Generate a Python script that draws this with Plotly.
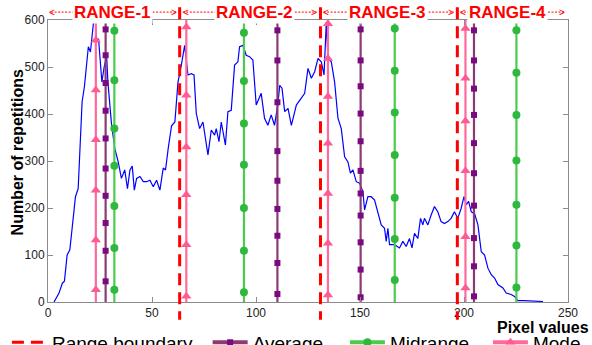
import plotly.graph_objects as go

# ---------------- data ----------------
pixel_x = [2.9, 5.3, 6.9, 7.9, 9.2, 10.5, 11.6, 13.2, 14.5, 15.3, 16.4, 17.5, 18.5, 19.4, 20.4,
           21.3, 21.9, 22.7, 23.5, 24.3, 25.1, 25.9, 27.0, 28.2, 28.8, 30.5, 32.1, 33.7, 35.3,
           36.9, 38.2, 39.4, 40.5, 41.5, 42.6, 44.2, 45.8, 47.4, 49.0, 50.6, 52.2, 53.8, 55.4,
           56.5, 57.8, 59.4, 61.0, 62.5, 64.1, 65.7, 67.3, 68.9, 70.2, 71.3, 72.9, 74.5, 76.9,
           78.5, 80.1, 80.9, 82.2, 83.3, 85.3, 86.5, 88.1, 89.7, 91.3, 92.1, 93.7, 95.3, 96.9,
           98.5, 100.1, 102.5, 104.1, 105.7, 107.3, 108.9, 110.5, 111.4, 112.5, 113.8, 115.4,
           117.0, 119.4, 121.8, 123.4, 125.0, 126.6, 128.2, 129.8, 131.4, 132.7, 133.8, 134.6,
           136.2, 137.8, 139.4, 141.0, 142.6, 144.2, 145.4, 146.6, 148.2, 149.8, 151.4, 152.2,
           153.8, 155.4, 157.0, 158.6, 160.2, 161.8, 162.6, 163.4, 164.2, 166.6, 169.0, 170.6,
           172.2, 173.8, 175.0, 176.2, 177.8, 179.1, 180.2, 181.0, 182.6, 184.2, 185.8, 187.4,
           189.0, 190.6, 192.2, 193.8, 195.4, 197.0, 198.6, 200.0, 201.1, 202.2, 203.5, 205.1,
           206.7, 208.3, 209.9, 211.5, 213.1, 214.7, 216.3, 218.7, 220.3, 222.7, 224.3, 225.9,
           229.1, 238.0]
repetitions = [0, 19, 40, 44, 100, 111, 157, 224, 241, 313, 426, 458, 504, 543, 532,
               564, 596, 600, 553, 560, 504, 468, 500, 523, 468, 380, 327, 299, 263,
               281, 241, 281, 289, 238, 263, 267, 256, 256, 259, 245, 259, 238, 285,
               281, 327, 375, 383, 468, 504, 546, 483, 486, 483, 401, 369, 383, 313,
               366, 355, 369, 341, 383, 334, 405, 408, 504, 511, 543, 546, 525, 522,
               515, 419, 444, 391, 376, 398, 376, 420, 461, 455, 405, 412,
               376, 419, 433, 444, 497, 476, 490, 518, 511, 483, 595, 518,
               511, 468, 391, 369, 309, 298, 274, 281, 256, 253, 235, 196,
               224, 224, 217, 192, 164, 157, 129, 157, 122, 122, 115, 129,
               118, 135, 115, 146, 135, 178, 164, 178, 164, 185, 203, 192,
               171, 167, 171, 178, 192, 178, 199, 224, 207, 214, 192, 188,
               164, 107, 100, 72, 58, 51, 37, 30, 19, 16, 12, 3,
               3, 1]

range_edges = [0, 63.3, 131.0, 196.8, 250]          # outer limits + range boundaries
range_boundaries = range_edges[1:-1]
range_labels = ["RANGE-1", "RANGE-2", "RANGE-3", "RANGE-4"]
range_label_x = [31.1, 99.4, 163.3, 221.0]

mode_x = [23.0, 66.5, 134.6, 200.7]
average_x = [27.7, 110.3, 150.3, 204.8]
midrange_x = [31.9, 94.2, 166.7, 225.2]

mode_marks = [[557, 451, 345, 238, 132, 26],
              [585, 440, 330, 228, 122, 12],
              [592, 518, 437, 338, 231, 125, 15],
              [582, 476, 385, 279, 139, 30]]
average_marks = [[580, 525, 466, 407, 348, 284, 226, 168, 109, 44],
                 [578, 514, 425, 321, 258, 198, 141, 83, 17],
                 [580, 514, 459, 401, 342, 279, 231, 184, 127, 69, 10],
                 [578, 514, 454, 398, 338, 274, 205, 136, 76, 12]]
midrange_marks = [[577, 472, 369, 290, 204, 115, 26],
                  [573, 470, 380, 292, 200, 109, 21],
                  [582, 492, 403, 313, 222, 134, 47],
                  [578, 488, 398, 301, 207, 120, 31]]

x_ticks = [0, 50, 100, 150, 200, 250]
y_ticks = [0, 100, 200, 300, 400, 500, 600]
y_range = [0, 600]

# ---------------- styles ----------------
BLUE = "#0000ff"
RED = "#ff0000"
PINK_LINE, PINK_MARK = "#ff6a9c", "#ff5a94"
PURP_LINE, PURP_MARK = "#8c3a72", "#7a0a80"
GREEN_LINE, GREEN_MARK = "#4ccc4c", "#2eb83e"
AXIS = "#8c8c8c"
LEG_Y = -0.076
LEG_FONT = dict(size=19, color="black", family="Liberation Sans")

fig = go.Figure()

fig.add_trace(go.Scatter(x=pixel_x, y=repetitions, mode="lines",
                         line=dict(color=BLUE, width=1.2), showlegend=False,
                         hoverinfo="skip"))


def vertical_series(name, xs, marks, lcol, mcol, symbol, msize, legend_id):
    lx, ly, mx, my = [], [], [], []
    for xv, mk in zip(xs, marks):
        lx += [xv, xv, None]
        ly += [y_range[0], y_range[1], None]
        mx += [xv] * len(mk)
        my += mk
    fig.add_trace(go.Scatter(x=lx, y=ly, mode="lines", line=dict(color=lcol, width=2.2),
                             showlegend=False, hoverinfo="skip"))
    fig.add_trace(go.Scatter(x=mx, y=my, mode="markers",
                             marker=dict(symbol=symbol, size=msize, color=mcol),
                             showlegend=False, cliponaxis=False))
    fig.add_trace(go.Scatter(x=[None], y=[None], mode="lines+markers", name=name,
                             line=dict(color=lcol, width=4),
                             marker=dict(symbol=symbol, size=msize, color=mcol),
                             legend=legend_id))


# legend entry for the boundaries
fig.add_trace(go.Scatter(x=[None], y=[None], mode="lines", name="Range boundary",
                         line=dict(color=RED, width=3, dash="12px,7px"), legend="legend"))

vertical_series("Average", average_x, average_marks, PURP_LINE, PURP_MARK, "square", 6, "legend2")
vertical_series("Midrange", midrange_x, midrange_marks, GREEN_LINE, GREEN_MARK, "circle", 8, "legend3")
vertical_series("Mode", mode_x, mode_marks, PINK_LINE, PINK_MARK, "triangle-up", 9, "legend4")

shapes = []
for b in range_boundaries:
    shapes.append(dict(type="line", xref="x", yref="paper", x0=b, x1=b, y0=1.045, y1=-0.063,
                       line=dict(color=RED, width=3, dash="12px,7px"), layer="above"))

# dotted arrow rows above the plot
ROW_Y = 1.028
annotations = []
for i, lab in enumerate(range_labels):
    left, right = range_edges[i], range_edges[i + 1]
    shapes.append(dict(type="line", xref="x", yref="paper", x0=left + 1.5, x1=right - 1.8,
                       y0=ROW_Y, y1=ROW_Y, line=dict(color=RED, width=1, dash="2px,1.5px")))
    annotations.append(dict(x=left, y=ROW_Y, xref="x", yref="paper", text="<", showarrow=False,
                            xanchor="left", yanchor="middle", xshift=-1 if i == 0 else 1,
                            font=dict(color=RED, size=10, family="Liberation Sans")))
    annotations.append(dict(x=right, y=ROW_Y, xref="x", yref="paper", text=">", showarrow=False,
                            xanchor="right", yanchor="middle", xshift=-1,
                            font=dict(color=RED, size=10, family="Liberation Sans")))
    annotations.append(dict(x=range_label_x[i], y=ROW_Y, xref="x", yref="paper", text="<b>%s</b>" % lab,
                            showarrow=False, xanchor="center", yanchor="middle", bgcolor="white",
                            borderpad=1,
                            font=dict(color=RED, size=17,
                                      family="Liberation Sans Narrow, Arial Narrow, Liberation Sans")))

annotations.append(dict(x=-0.058, y=0.53, xref="paper", yref="paper", text="<b>Number of repetitions</b>",
                        textangle=-90, showarrow=False, xanchor="center", yanchor="middle",
                        font=dict(size=16, color="black", family="Liberation Sans")))
annotations.append(dict(x=0.952, y=-0.089, xref="paper", yref="paper", text="<b>Pixel values</b>",
                        showarrow=False, xanchor="center", yanchor="middle",
                        font=dict(size=16, color="black", family="Liberation Sans")))

axis_common = dict(showline=True, linecolor=AXIS, linewidth=1, mirror="ticks", ticks="inside",
                   ticklen=5, tickcolor=AXIS, showgrid=False, zeroline=False,
                   tickfont=dict(size=12, color="#222222", family="Liberation Sans"))


def legend_at(xpos):
    return dict(orientation="h", x=xpos, xanchor="left", y=LEG_Y, yanchor="top",
                font=LEG_FONT, bgcolor="rgba(0,0,0,0)", itemwidth=35)


fig.update_layout(
    width=592, height=345,
    margin=dict(l=48, r=24, t=20, b=43, autoexpand=False),
    paper_bgcolor="white", plot_bgcolor="white",
    xaxis=dict(range=[0, 250], tickvals=x_ticks, **axis_common),
    yaxis=dict(range=y_range, tickvals=y_ticks, **axis_common),
    shapes=shapes, annotations=annotations,
    legend=legend_at(-0.079),
    legend2=legend_at(0.307),
    legend3=legend_at(0.571),
    legend4=legend_at(0.846),
    showlegend=True,
)

fig.write_html("out.html")
